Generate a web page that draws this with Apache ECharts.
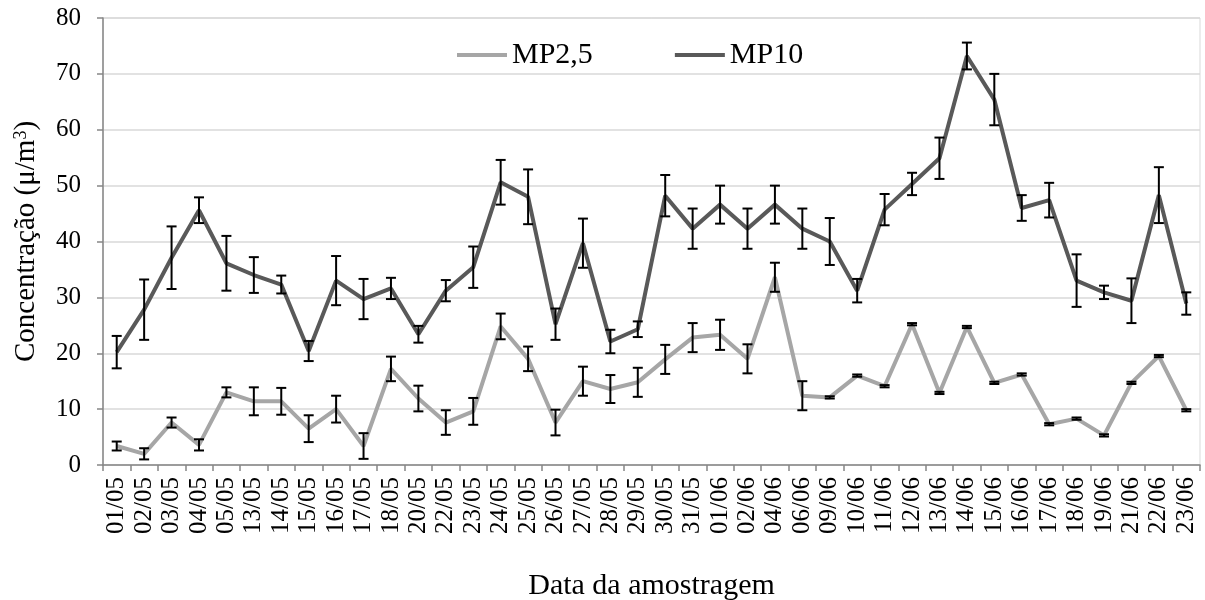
<!DOCTYPE html>
<html>
<head>
<meta charset="utf-8">
<script src="https://cdn.jsdelivr.net/npm/echarts@6/dist/echarts.min.js"></script>
<style>
  html, body { margin: 0; padding: 0; background: #fff; }
  #chart { width: 1205px; height: 600px; }
</style>
</head>
<body>
<div id="chart"></div>
<script>
// Sampling dates
const categories = ['01/05','02/05','03/05','04/05','05/05','13/05','14/05','15/05','16/05','17/05',
  '18/05','20/05','22/05','23/05','24/05','25/05','26/05','27/05','28/05','29/05',
  '30/05','31/05','01/06','02/06','04/06','06/06','09/06','10/06','11/06','12/06',
  '13/06','14/06','15/06','16/06','17/06','18/06','19/06','21/06','22/06','23/06'];

// Mean concentrations
const mp25 = [3.4, 2.0, 7.6, 3.6, 13.0, 11.4, 11.4, 6.5, 10.0, 3.4,
  17.2, 11.9, 7.6, 9.6, 24.8, 19.0, 7.6, 15.0, 13.6, 14.8,
  18.9, 22.8, 23.3, 19.0, 33.6, 12.4, 12.1, 16.0, 14.1, 25.2,
  12.9, 24.7, 14.7, 16.2, 7.3, 8.3, 5.3, 14.7, 19.5, 9.8];
const mp10 = [20.2, 27.8, 37.1, 45.6, 36.1, 34.0, 32.3, 20.4, 33.0, 29.7,
  31.6, 23.4, 31.2, 35.4, 50.6, 48.0, 25.2, 39.7, 22.1, 24.3,
  48.2, 42.3, 46.6, 42.3, 46.6, 42.3, 40.0, 31.2, 45.7, 50.3,
  54.9, 73.2, 65.4, 46.0, 47.4, 33.0, 30.9, 29.4, 48.3, 28.9];

// Standard deviations (error bar half-lengths)
const mp25Err = [0.8, 1.0, 0.9, 1.0, 0.9, 2.5, 2.4, 2.4, 2.4, 2.3,
  2.2, 2.3, 2.2, 2.4, 2.3, 2.2, 2.3, 2.6, 2.5, 2.6,
  2.6, 2.6, 2.7, 2.6, 2.6, 2.6, 0.2, 0.2, 0.2, 0.2,
  0.2, 0.2, 0.2, 0.2, 0.2, 0.2, 0.2, 0.2, 0.2, 0.2];
const mp10Err = [2.9, 5.4, 5.6, 2.3, 4.9, 3.2, 1.6, 1.8, 4.4, 3.6,
  1.9, 1.5, 1.9, 3.7, 4.0, 4.9, 2.8, 4.4, 2.1, 1.4,
  3.7, 3.6, 3.4, 3.6, 3.4, 3.6, 4.2, 2.1, 2.8, 2.0,
  3.7, 2.4, 4.6, 2.3, 3.1, 4.7, 1.2, 4.0, 5.0, 2.0];

const yTicks = { min: 0, max: 80, interval: 10 };

const FONT = "'Liberation Serif', 'Times New Roman', serif";
const COLOR_25 = '#a6a6a6';
const COLOR_10 = '#595959';

// Vertical error bar with caps, drawn in data coordinates
function renderErrorBar(params, api) {
  const i = api.value(0), v = api.value(1), e = api.value(2);
  const hi = api.coord([i, v + e]);
  const lo = api.coord([i, v - e]);
  const half = 5;
  const style = { stroke: '#000', lineWidth: 2 };
  return {
    type: 'group',
    children: [
      { type: 'line', shape: { x1: hi[0], y1: hi[1], x2: lo[0], y2: lo[1] }, style },
      { type: 'line', shape: { x1: hi[0] - half, y1: hi[1], x2: hi[0] + half, y2: hi[1] }, style },
      { type: 'line', shape: { x1: lo[0] - half, y1: lo[1], x2: lo[0] + half, y2: lo[1] }, style }
    ]
  };
}

const chart = echarts.init(document.getElementById('chart'), null, { renderer: 'canvas' });

chart.setOption({
  animation: false,
  backgroundColor: '#fff',
  textStyle: { fontFamily: FONT, color: '#000' },
  grid: {
    left: 103, right: 5, top: 18, bottom: 135,
    outerBoundsMode: 'none',
    containLabel: false,
    show: true, borderColor: '#d9d9d9', borderWidth: 1
  },
  legend: {
    data: ['MP2,5', 'MP10'],
    left: 452, top: 35,
    icon: 'rect',
    itemWidth: 50, itemHeight: 4,
    itemGap: 82,
    textStyle: { fontFamily: FONT, fontSize: 30, color: '#000' },
    selectedMode: false
  },
  xAxis: {
    type: 'category',
    data: categories,
    boundaryGap: true,
    name: 'Data da amostragem',
    nameLocation: 'middle',
    nameGap: 106,
    nameTextStyle: { fontFamily: FONT, fontSize: 30, color: '#000' },
    axisLine: { lineStyle: { color: '#868686', width: 1.5 } },
    axisTick: { show: true, alignWithLabel: false, length: 6, inside: false, lineStyle: { color: '#868686', width: 1.5 } },
    axisLabel: { interval: 0, rotate: 90, margin: 12, fontFamily: FONT, fontSize: 25, color: '#000' },
    splitLine: { show: false }
  },
  yAxis: {
    type: 'value',
    min: yTicks.min, max: yTicks.max, interval: yTicks.interval,
    name: '{a|Concentração (μ/m}{s|3}{a|)}',
    nameLocation: 'middle',
    nameGap: 62,
    nameTextStyle: {
      fontFamily: FONT, fontSize: 29, color: '#000',
      rich: {
        a: { fontFamily: FONT, fontSize: 29, color: '#000', verticalAlign: 'bottom' },
        s: { fontFamily: FONT, fontSize: 18, color: '#000', verticalAlign: 'top' }
      }
    },
    axisLine: { show: true, lineStyle: { color: '#868686', width: 1.5 } },
    axisTick: { show: true, length: 6, inside: false, lineStyle: { color: '#868686', width: 1.5 } },
    axisLabel: { margin: 22, fontFamily: FONT, fontSize: 25, color: '#000' },
    splitLine: { show: true, lineStyle: { color: '#d9d9d9', width: 1.5 } }
  },
  series: [
    {
      name: 'MP2,5', type: 'line', data: mp25,
      showSymbol: false, symbol: 'none',
      itemStyle: { color: COLOR_25 },
      lineStyle: { color: COLOR_25, width: 4 },
      z: 3
    },
    {
      name: 'MP10', type: 'line', data: mp10,
      showSymbol: false, symbol: 'none',
      itemStyle: { color: COLOR_10 },
      lineStyle: { color: COLOR_10, width: 4 },
      z: 3
    },
    {
      name: 'MP2,5 desvio', type: 'custom',
      renderItem: renderErrorBar,
      data: mp25.map((v, i) => [i, v, mp25Err[i]]),
      encode: { x: 0, y: 1 },
      z: 5
    },
    {
      name: 'MP10 desvio', type: 'custom',
      renderItem: renderErrorBar,
      data: mp10.map((v, i) => [i, v, mp10Err[i]]),
      encode: { x: 0, y: 1 },
      z: 5
    }
  ]
});
</script>
</body>
</html>
